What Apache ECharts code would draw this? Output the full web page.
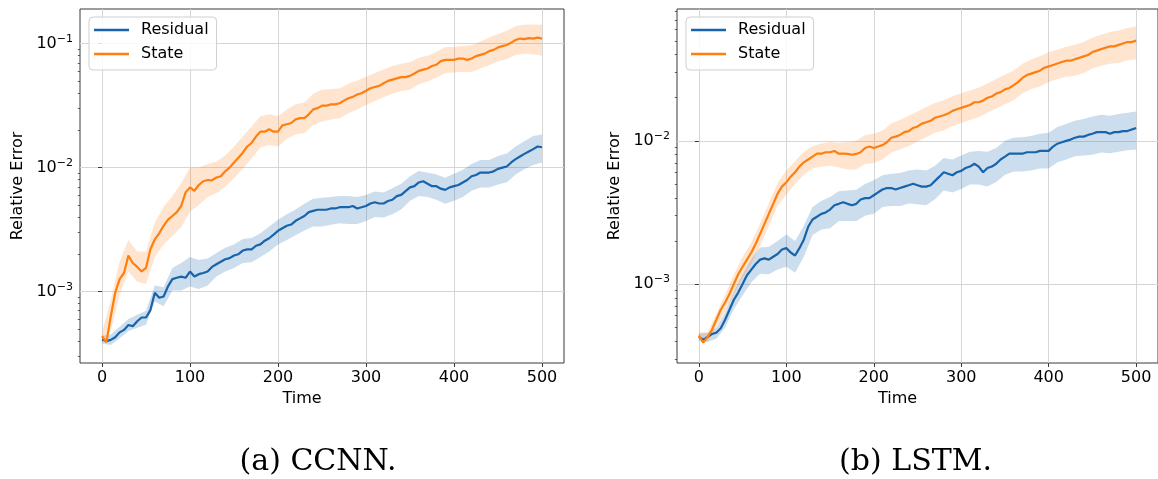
<!DOCTYPE html>
<html>
<head>
<meta charset="utf-8">
<script src="https://cdn.jsdelivr.net/npm/echarts@6/dist/echarts.min.js"></script>
<style>
html,body{margin:0;padding:0;background:#fff;}
#chart{width:1158px;height:479px;}
</style>
</head>
<body>
<div id="chart"></div>
<script>
// ---------------- data (relative error values) ----------------
const lineTimes = [0,5,10,15,20,25,30,35,40,45,50,55,60,65,70,75,80,85,90,95,100,105,110,115,120,125,130,135,140,145,150,155,160,165,170,175,180,185,190,195,200,205,210,215,220,225,230,235,240,245,250,255,260,265,270,275,280,285,290,295,300,305,310,315,320,325,330,335,340,345,350,355,360,365,370,375,380,385,390,395,400,405,410,415,420,425,430,435,440,445,450,455,460,465,470,475,480,485,490,495,500];
const bandTimes = [0,10,20,30,40,50,60,70,80,90,100,110,120,130,140,150,160,170,180,190,200,210,220,230,240,250,260,270,280,290,300,310,320,330,340,350,360,370,380,390,400,410,420,430,440,450,460,470,480,490,500];

// (a) CCNN
const ccnnResidual = [0.00041,0.000398,0.000407,0.000427,0.000468,0.00049,0.000537,0.000525,0.000575,0.000617,0.000617,0.000708,0.000977,0.000891,0.000912,0.0011,0.00126,0.00129,0.00132,0.00129,0.00145,0.00132,0.00138,0.00141,0.00145,0.00158,0.00166,0.00174,0.00182,0.00186,0.00195,0.002,0.00214,0.00219,0.00219,0.00234,0.0024,0.00257,0.00269,0.00288,0.00309,0.00324,0.00339,0.00347,0.00372,0.00389,0.00407,0.00437,0.00447,0.00457,0.00457,0.00457,0.00468,0.00468,0.00479,0.00479,0.00479,0.0049,0.00468,0.00479,0.0049,0.00513,0.00525,0.00513,0.00513,0.00537,0.0055,0.00589,0.00603,0.00646,0.00692,0.00708,0.00759,0.00776,0.00741,0.00708,0.00708,0.00676,0.00661,0.00692,0.00708,0.00724,0.00759,0.00794,0.00851,0.00871,0.00912,0.00912,0.00912,0.00933,0.00977,0.01,0.0102,0.011,0.0117,0.0123,0.0129,0.0135,0.0141,0.0148,0.0146];
const ccnnState = [0.000437,0.000389,0.000631,0.000977,0.00126,0.00141,0.00195,0.0017,0.00158,0.00145,0.00155,0.00219,0.00263,0.00295,0.00339,0.0038,0.00407,0.00437,0.0049,0.00631,0.00692,0.0065,0.00724,0.00776,0.00794,0.0079,0.00832,0.00851,0.00933,0.01,0.011,0.012,0.0132,0.0148,0.0158,0.0178,0.0195,0.0195,0.0204,0.0195,0.0195,0.0219,0.0224,0.0229,0.0245,0.0251,0.0251,0.0269,0.0295,0.0302,0.0316,0.0316,0.0324,0.0324,0.0331,0.0347,0.0363,0.0372,0.0389,0.0398,0.0417,0.0437,0.0447,0.0457,0.0479,0.0501,0.0513,0.0525,0.0537,0.0537,0.055,0.0575,0.0603,0.0617,0.0631,0.0661,0.0676,0.0724,0.0741,0.0741,0.0741,0.0759,0.0759,0.0741,0.0759,0.0794,0.0813,0.0832,0.0871,0.0891,0.0933,0.0955,0.0977,0.102,0.107,0.11,0.109,0.111,0.11,0.112,0.11];
const ccnnResidualUpper = [4.4e-4,4.5e-4,5.2e-4,6.0e-4,6.5e-4,7.0e-4,1.12e-3,1.08e-3,1.55e-3,1.7e-3,1.9e-3,1.8e-3,1.85e-3,2.05e-3,2.25e-3,2.4e-3,2.65e-3,2.7e-3,2.95e-3,3.35e-3,3.8e-3,4.2e-3,4.6e-3,5.1e-3,5.6e-3,5.7e-3,5.8e-3,5.9e-3,5.9e-3,5.8e-3,6.0e-3,6.4e-3,6.3e-3,6.8e-3,7.4e-3,8.5e-3,9.4e-3,9.1e-3,8.8e-3,8.3e-3,8.9e-3,9.6e-3,1.07e-2,1.15e-2,1.15e-2,1.24e-2,1.3e-2,1.48e-2,1.63e-2,1.8e-2,1.85e-2];
const ccnnResidualLower = [3.8e-4,3.7e-4,4.2e-4,4.8e-4,5.1e-4,5.4e-4,8.3e-4,7.6e-4,1.02e-3,1.02e-3,1.1e-3,1.05e-3,1.12e-3,1.32e-3,1.45e-3,1.55e-3,1.7e-3,1.72e-3,1.9e-3,2.1e-3,2.4e-3,2.6e-3,2.85e-3,3.1e-3,3.35e-3,3.35e-3,3.45e-3,3.55e-3,3.5e-3,3.5e-3,3.7e-3,4.0e-3,3.95e-3,4.2e-3,4.6e-3,5.4e-3,5.9e-3,5.8e-3,5.5e-3,5.1e-3,5.4e-3,5.8e-3,6.5e-3,6.9e-3,6.9e-3,7.3e-3,7.6e-3,8.8e-3,9.7e-3,1.05e-2,1.1e-2];
const ccnnStateUpper = [4.7e-4,8.5e-4,1.75e-3,2.6e-3,2.1e-3,2.1e-3,3.6e-3,4.8e-3,5.9e-3,7.5e-3,1.0e-2,1.0e-2,1.07e-2,1.12e-2,1.25e-2,1.48e-2,1.78e-2,2.15e-2,2.6e-2,2.7e-2,2.6e-2,2.95e-2,3.25e-2,3.35e-2,3.95e-2,4.25e-2,4.3e-2,4.35e-2,4.75e-2,5.05e-2,5.4e-2,5.8e-2,6.2e-2,6.6e-2,6.9e-2,7.1e-2,7.7e-2,8.0e-2,8.6e-2,9.4e-2,9.4e-2,9.6e-2,9.7e-2,0.104,0.112,0.12,0.127,0.138,0.142,0.143,0.142];
const ccnnStateLower = [4.0e-4,4.8e-4,9.5e-4,1.45e-3,1.2e-3,1.15e-3,1.9e-3,2.4e-3,2.8e-3,3.3e-3,4.4e-3,5.0e-3,5.8e-3,6.2e-3,7.0e-3,8.2e-3,9.8e-3,1.18e-2,1.45e-2,1.52e-2,1.48e-2,1.7e-2,1.85e-2,1.9e-2,2.2e-2,2.35e-2,2.45e-2,2.5e-2,2.75e-2,2.95e-2,3.2e-2,3.45e-2,3.7e-2,3.95e-2,4.15e-2,4.25e-2,4.7e-2,4.95e-2,5.3e-2,5.8e-2,5.85e-2,5.95e-2,5.9e-2,6.3e-2,6.7e-2,7.2e-2,7.5e-2,8.1e-2,8.3e-2,8.2e-2,8.0e-2];

// (b) LSTM
const lstmResidual = [4.27e-4,4.07e-4,4.27e-4,4.47e-4,4.57e-4,4.9e-4,5.62e-4,6.61e-4,7.76e-4,8.71e-4,1.0e-3,1.15e-3,1.26e-3,1.38e-3,1.48e-3,1.51e-3,1.48e-3,1.55e-3,1.62e-3,1.74e-3,1.78e-3,1.66e-3,1.58e-3,1.78e-3,2.04e-3,2.51e-3,2.82e-3,2.95e-3,3.09e-3,3.16e-3,3.31e-3,3.55e-3,3.63e-3,3.72e-3,3.63e-3,3.55e-3,3.63e-3,3.89e-3,3.98e-3,3.98e-3,4.17e-3,4.37e-3,4.57e-3,4.68e-3,4.68e-3,4.57e-3,4.68e-3,4.79e-3,4.9e-3,5.01e-3,4.9e-3,4.79e-3,4.79e-3,4.9e-3,5.25e-3,5.62e-3,6.03e-3,5.89e-3,5.75e-3,6.03e-3,6.17e-3,6.46e-3,6.61e-3,6.92e-3,6.61e-3,6.03e-3,6.46e-3,6.61e-3,6.92e-3,7.41e-3,7.76e-3,8.13e-3,8.13e-3,8.13e-3,8.13e-3,8.32e-3,8.32e-3,8.32e-3,8.51e-3,8.51e-3,8.51e-3,9.12e-3,9.55e-3,9.77e-3,1.0e-2,1.02e-2,1.05e-2,1.07e-2,1.07e-2,1.1e-2,1.12e-2,1.15e-2,1.15e-2,1.15e-2,1.12e-2,1.15e-2,1.15e-2,1.17e-2,1.17e-2,1.2e-2,1.23e-2];
const lstmState = [4.37e-4,3.89e-4,4.27e-4,4.79e-4,5.62e-4,6.61e-4,7.41e-4,8.51e-4,1.0e-3,1.17e-3,1.32e-3,1.48e-3,1.66e-3,1.91e-3,2.24e-3,2.63e-3,3.09e-3,3.63e-3,4.27e-3,4.79e-3,5.13e-3,5.62e-3,6.03e-3,6.61e-3,7.08e-3,7.41e-3,7.76e-3,8.13e-3,8.13e-3,8.32e-3,8.32e-3,8.5e-3,8.13e-3,8.13e-3,8.1e-3,8.0e-3,8.1e-3,8.32e-3,8.91e-3,9.12e-3,8.91e-3,9.12e-3,9.33e-3,9.77e-3,1.05e-2,1.07e-2,1.1e-2,1.15e-2,1.17e-2,1.23e-2,1.26e-2,1.32e-2,1.35e-2,1.38e-2,1.45e-2,1.48e-2,1.51e-2,1.55e-2,1.62e-2,1.66e-2,1.7e-2,1.74e-2,1.78e-2,1.86e-2,1.86e-2,1.91e-2,2.0e-2,2.04e-2,2.14e-2,2.19e-2,2.29e-2,2.34e-2,2.45e-2,2.57e-2,2.75e-2,2.88e-2,2.95e-2,3.02e-2,3.09e-2,3.24e-2,3.31e-2,3.39e-2,3.47e-2,3.55e-2,3.63e-2,3.63e-2,3.72e-2,3.8e-2,3.89e-2,3.98e-2,4.17e-2,4.27e-2,4.37e-2,4.47e-2,4.57e-2,4.57e-2,4.68e-2,4.79e-2,4.9e-2,4.9e-2,5.01e-2];
const lstmResidualUpper = [4.5e-4,4.55e-4,4.95e-4,6.3e-4,8.9e-4,1.17e-3,1.5e-3,1.8e-3,1.82e-3,2.0e-3,2.22e-3,2.0e-3,2.55e-3,3.45e-3,3.8e-3,4.05e-3,4.45e-3,4.5e-3,4.55e-3,5.0e-3,5.3e-3,5.75e-3,5.9e-3,5.95e-3,6.2e-3,6.3e-3,6.2e-3,6.7e-3,7.6e-3,7.4e-3,7.9e-3,8.4e-3,8.5e-3,8.4e-3,8.9e-3,1.0e-2,1.05e-2,1.06e-2,1.08e-2,1.12e-2,1.14e-2,1.25e-2,1.31e-2,1.38e-2,1.42e-2,1.48e-2,1.52e-2,1.5e-2,1.54e-2,1.57e-2,1.6e-2];
const lstmResidualLower = [4.0e-4,3.95e-4,4.15e-4,4.95e-4,6.7e-4,8.3e-4,1.03e-3,1.18e-3,1.17e-3,1.26e-3,1.32e-3,1.2e-3,1.55e-3,2.2e-3,2.4e-3,2.45e-3,2.75e-3,2.75e-3,2.75e-3,3.0e-3,3.1e-3,3.45e-3,3.5e-3,3.5e-3,3.65e-3,3.6e-3,3.55e-3,3.9e-3,4.5e-3,4.35e-3,4.6e-3,4.95e-3,4.95e-3,4.8e-3,5.15e-3,5.8e-3,6.1e-3,6.1e-3,6.2e-3,6.4e-3,6.4e-3,7.1e-3,7.4e-3,7.8e-3,7.9e-3,8.0e-3,8.3e-3,8.2e-3,8.4e-3,8.6e-3,8.7e-3];
const lstmStateUpper = [4.6e-4,4.6e-4,6.2e-4,8.4e-4,1.16e-3,1.55e-3,1.95e-3,2.65e-3,3.65e-3,5.1e-3,6.2e-3,7.2e-3,8.4e-3,9.2e-3,9.6e-3,9.8e-3,9.7e-3,9.8e-3,1.0e-2,1.1e-2,1.12e-2,1.18e-2,1.32e-2,1.4e-2,1.5e-2,1.6e-2,1.72e-2,1.84e-2,1.92e-2,2.05e-2,2.15e-2,2.25e-2,2.35e-2,2.52e-2,2.7e-2,2.9e-2,3.1e-2,3.45e-2,3.7e-2,3.9e-2,4.15e-2,4.35e-2,4.55e-2,4.7e-2,4.9e-2,5.25e-2,5.5e-2,5.75e-2,5.9e-2,6.15e-2,6.3e-2];
const lstmStateLower = [4.1e-4,3.9e-4,5.0e-4,6.4e-4,8.5e-4,1.1e-3,1.38e-3,1.85e-3,2.55e-3,3.5e-3,4.2e-3,5.0e-3,5.8e-3,6.4e-3,6.6e-3,6.7e-3,6.5e-3,6.3e-3,6.3e-3,6.9e-3,7.0e-3,7.4e-3,8.3e-3,8.7e-3,9.2e-3,9.9e-3,1.06e-2,1.14e-2,1.18e-2,1.27e-2,1.33e-2,1.4e-2,1.46e-2,1.57e-2,1.68e-2,1.8e-2,1.92e-2,2.15e-2,2.3e-2,2.4e-2,2.58e-2,2.7e-2,2.8e-2,2.85e-2,2.98e-2,3.2e-2,3.35e-2,3.45e-2,3.5e-2,3.65e-2,3.7e-2];

// ticks
const xTicks = [0,100,200,300,400,500];
const yMajorExponents = [-3,-2,-1];
const yMinorMultipliers = [2,3,4,5,6,7,8,9];
const seriesNames = ['Residual','State'];
const captions = ['(a) CCNN.','(b) LSTM.'];

// ---------------- styling / layout ----------------
const BLUE = '#1764ab', ORANGE = '#ff7f0e';
const BLUE_FILL = 'rgba(23,100,171,0.22)', ORANGE_FILL = 'rgba(255,127,14,0.2)';
const FONT = 'DejaVu Sans';
const grids = [
  {left:80, top:9, width:484, height:354, yMin:-3.577, yMax:-0.72},
  {left:677, top:9, width:485, height:354, yMin:-3.552, yMax:-1.079}
];

const log10 = v => Math.log10(v);
function minorTicks(lo, hi){
  const out = [];
  for (let e = -5; e <= 1; e++) for (const m of yMinorMultipliers){
    const v = log10(m) + e;
    if (v > lo && v < hi) out.push(v);
  }
  return out;
}

function lineSeries(name, times, vals, color, gi){
  return {type:'line', name, xAxisIndex:gi, yAxisIndex:gi*2, data: times.map((t,i)=>[t, log10(vals[i])]),
    showSymbol:false, symbol:'none', color, itemStyle:{color}, lineStyle:{color, width:2.2}, z:3, animation:false};
}
function bandSeries(name, times, up, lo, fill, gi){
  return {type:'custom', name, xAxisIndex:gi, yAxisIndex:gi*2, silent:true, z:1,
    data:[[times[0], log10(lo[0])]],
    renderItem: function(params, api){
      const pts = [];
      for (let i=0;i<times.length;i++) pts.push(api.coord([times[i], log10(up[i])]));
      for (let i=times.length-1;i>=0;i--) pts.push(api.coord([times[i], log10(lo[i])]));
      return {type:'polygon', shape:{points:pts}, style:{fill:fill, stroke:null}};
    }};
}

const option = {
  animation:false,
  backgroundColor:'#fff',
  grid: grids.map(g => ({left:g.left, top:g.top, width:g.width, height:g.height, show:true, borderColor:'#3a3a3a', borderWidth:1, containLabel:false})),
  xAxis: grids.map((g,gi) => ({
    type:'value', gridIndex:gi, min:-25, max:525,
    axisLine:{show:false},
    axisTick:{show:true, customValues:xTicks, length:4, lineStyle:{color:'#3a3a3a', width:1}},
    axisLabel:{customValues:xTicks, fontSize:16, fontFamily:FONT, color:'#000', margin:7},
    splitLine:{show:true, lineStyle:{color:'#d6d6d6', width:1}},
    name:'Time', nameLocation:'middle', nameGap:26,
    nameTextStyle:{fontSize:16, fontFamily:FONT, color:'#000', padding:[0,40,0,0]}
  })),
  yAxis: [].concat(...grids.map((g,gi) => {
    const major = yMajorExponents.filter(v => v >= g.yMin && v <= g.yMax);
    return [
      {type:'value', gridIndex:gi, min:g.yMin, max:g.yMax, position:'left',
       axisLine:{show:false},
       axisTick:{show:true, customValues:major, length:4, lineStyle:{color:'#3a3a3a', width:1}},
       axisLabel:{customValues:major, margin:7, color:'#000',
         formatter: v => '{b|10}{s|\u2212' + Math.round(-v) + '}',
         rich:{b:{fontSize:16, fontFamily:FONT, color:'#000'}, s:{fontSize:11, fontFamily:FONT, color:'#000', padding:[0,0,9,0]}}},
       splitLine:{show:true, lineStyle:{color:'#d6d6d6', width:1}},
       name:'Relative Error', nameLocation:'middle', nameGap:54,
       nameTextStyle:{fontSize:16, fontFamily:FONT, color:'#000'}},
      {type:'value', gridIndex:gi, min:g.yMin, max:g.yMax, position:'left', offset:0,
       axisLine:{show:false}, axisLabel:{show:false}, splitLine:{show:false},
       axisTick:{show:true, customValues:minorTicks(g.yMin, g.yMax), length:2.2, lineStyle:{color:'#3a3a3a', width:0.8}}}
    ];
  })),
  legend: grids.map(g => ({
    data: seriesNames, orient:'vertical', left:g.left+9, top:17,
    icon:'rect', itemWidth:35, itemHeight:2.5, itemGap:8,
    padding:[5,8,8,5], borderColor:'#cfcfcf', borderWidth:1, borderRadius:4,
    backgroundColor:'rgba(255,255,255,0.85)',
    textStyle:{fontSize:16, fontFamily:FONT, color:'#000', lineHeight:16, padding:[0,0,0,7]},
    selectedMode:false
  })),
  graphic: captions.map((c,i) => ({
    type:'text', x: grids[i].left + grids[i].width/2 - 4, y:462,
    style:{text:c, font:'30px "DejaVu Serif"', fill:'#000', textAlign:'center', textVerticalAlign:'middle'}
  })),
  series: [
    bandSeries('Residual band', bandTimes, ccnnResidualUpper, ccnnResidualLower, BLUE_FILL, 0),
    bandSeries('State band', bandTimes, ccnnStateUpper, ccnnStateLower, ORANGE_FILL, 0),
    lineSeries('Residual', lineTimes, ccnnResidual, BLUE, 0),
    lineSeries('State', lineTimes, ccnnState, ORANGE, 0),
    bandSeries('Residual band', bandTimes, lstmResidualUpper, lstmResidualLower, BLUE_FILL, 1),
    bandSeries('State band', bandTimes, lstmStateUpper, lstmStateLower, ORANGE_FILL, 1),
    lineSeries('Residual', lineTimes, lstmResidual, BLUE, 1),
    lineSeries('State', lineTimes, lstmState, ORANGE, 1)
  ]
};

const chart = echarts.init(document.getElementById('chart'), null, {renderer:'canvas'});
chart.setOption(option);
</script>
</body>
</html>
